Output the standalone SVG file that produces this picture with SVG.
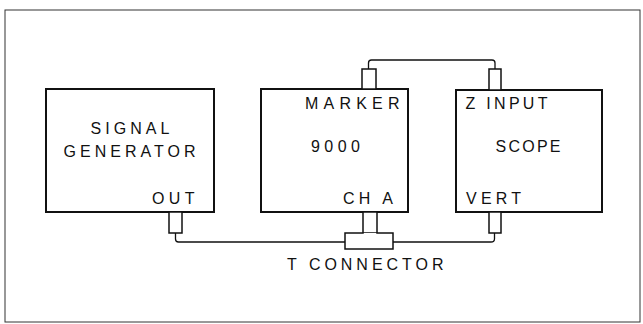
<svg xmlns="http://www.w3.org/2000/svg" width="643" height="324" viewBox="0 0 643 324">
  <style>
    .frame { fill: none; stroke: #333; stroke-width: 1; }
    .box { fill: #fff; stroke: #111; stroke-width: 2; }
    .stub { fill: #fff; stroke: #111; stroke-width: 1.5; }
    .wire { fill: none; stroke: #111; stroke-width: 1.3; }
    text { font-family: "Liberation Sans", Arial, sans-serif; font-size: 16px; fill: #111; }
  </style>
  <rect width="643" height="324" fill="#fff"/>
  <rect class="frame" x="5" y="10" width="635" height="312"/>

  <g id="connectors">
    <path class="wire" d="M368.5,69 V63 Q368.5,60 371.5,60 H492 Q495,60 495,63 V69"/>
    <path class="wire" d="M175.5,233 V239 Q175.5,242 178.5,242 H345"/>
    <path class="wire" d="M393,242 H491 Q494.5,242 494.5,239 V233"/>
  </g>

  <g id="signal-generator">
    <rect class="box" x="46" y="89" width="168" height="123"/>
    <rect class="stub" x="169" y="212" width="13" height="21"/>
    <text x="90.5" y="133.5" textLength="79" lengthAdjust="spacing">SIGNAL</text>
    <text x="63.5" y="157" textLength="132" lengthAdjust="spacing">GENERATOR</text>
    <text x="152" y="204" textLength="42.5" lengthAdjust="spacing">OUT</text>
  </g>

  <g id="counter-9000">
    <rect class="box" x="261" y="89" width="147" height="123"/>
    <rect class="stub" x="362" y="69" width="14" height="20"/>
    <text x="305" y="109" textLength="94.5" lengthAdjust="spacing">MARKER</text>
    <text x="311" y="151.5" textLength="49" lengthAdjust="spacing">9000</text>
    <text x="343" y="204" textLength="50" lengthAdjust="spacing">CH A</text>
  </g>

  <g id="scope">
    <rect class="box" x="456" y="90" width="146" height="122"/>
    <rect class="stub" x="489" y="69" width="12" height="21"/>
    <rect class="stub" x="489" y="212" width="12" height="21"/>
    <text x="465.5" y="109" textLength="82" lengthAdjust="spacing">Z INPUT</text>
    <text x="495.5" y="151.5" textLength="65" lengthAdjust="spacing">SCOPE</text>
    <text x="466" y="204" textLength="55" lengthAdjust="spacing">VERT</text>
  </g>

  <g id="t-connector">
    <rect class="stub" x="363" y="212" width="14" height="22"/>
    <rect class="stub" x="345" y="233" width="48" height="16"/>
    <line x1="363.75" y1="233.75" x2="376.25" y2="233.75" stroke="#fff" stroke-width="1.5"/>
    <text x="287" y="269.5" textLength="156.5" lengthAdjust="spacing">T CONNECTOR</text>
  </g>
</svg>
